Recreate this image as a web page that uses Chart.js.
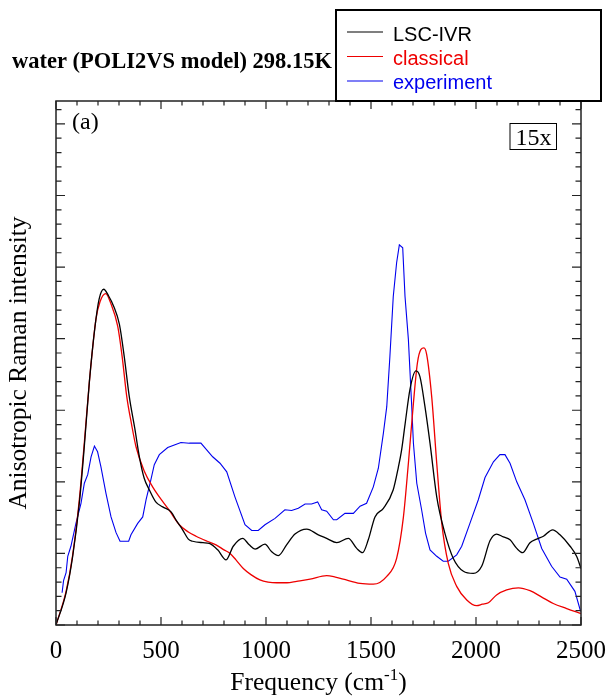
<!DOCTYPE html>
<html>
<head>
<meta charset="utf-8">
<script src="https://cdn.jsdelivr.net/npm/chart.js@4/dist/chart.umd.min.js"></script>
<style>
html,body{margin:0;padding:0;background:#fff;}
#c{display:block;}
</style>
</head>
<body>
<canvas id="c" width="611" height="700"></canvas>
<script>
// ---- data ----
const seriesLabels = ["LSC-IVR", "classical", "experiment"];
const seriesColors = ["#000000", "#ee0000", "#0000ee"];

const lscFreq = [0,48,79,111,135,159,185,205,227,250,275,302,325,349,375,397,420,444,475,508,548,575,603,630,651,700,730,770,810,844,889,920,948,995,1025,1059,1098,1138,1194,1249,1289,1337,1392,1432,1460,1487,1519,1559,1606,1630,1646,1662,1686,1714,1733,1757,1781,1813,1852,1892,1940,1987,2027,2067,2098,2130,2162,2194,2222,2257,2289,2321,2365,2400,2448,2479,2500];
const lscInt  = [0,0.45,0.95,1.7,2.5,3.4,4.15,4.55,4.69,4.6,4.45,4.2,3.75,3.19,2.75,2.35,2.05,1.89,1.72,1.65,1.58,1.45,1.33,1.2,1.17,1.15,1.14,1.05,0.91,1.1,1.21,1.12,1.06,1.13,1.03,0.97,1.12,1.27,1.34,1.26,1.21,1.15,1.21,1.07,1.01,1.19,1.51,1.63,1.89,2.2,2.45,2.8,3.3,3.55,3.47,3.05,2.54,1.79,1.28,0.93,0.75,0.72,0.82,1.18,1.27,1.23,1.19,1.07,1.01,1.15,1.2,1.24,1.33,1.26,1.1,0.96,0.79];

const classFreq = [0,48,79,111,135,159,190,210,237,260,294,315,337,360,381,420,460,492,540,587,630,667,720,762,800,829,857,892,930,971,1010,1051,1100,1146,1210,1289,1330,1368,1448,1511,1575,1622,1654,1678,1702,1721,1738,1752,1765,1789,1813,1837,1868,1908,1956,2003,2030,2059,2098,2146,2202,2257,2313,2368,2432,2500];
const classInt  = [0,0.47,0.97,1.75,2.55,3.4,4.27,4.52,4.63,4.5,4.17,3.75,3.19,2.8,2.49,2.15,1.93,1.79,1.6,1.4,1.3,1.24,1.17,1.12,1.05,1.0,0.91,0.79,0.7,0.63,0.6,0.59,0.59,0.61,0.64,0.69,0.67,0.64,0.58,0.57,0.68,0.93,1.5,2.26,3.1,3.66,3.85,3.87,3.78,3.19,2.26,1.42,0.86,0.54,0.35,0.27,0.29,0.31,0.42,0.49,0.52,0.48,0.39,0.3,0.23,0.16];

const expFreq = [29,36,48,56,71,95,119,135,151,167,183,198,214,238,262,286,305,346,357,389,413,429,452,468,492,532,595,635,690,746,781,813,852,900,932,963,995,1043,1090,1122,1154,1186,1217,1246,1265,1289,1321,1337,1376,1416,1448,1479,1511,1535,1559,1575,1590,1606,1622,1635,1651,1662,1678,1694,1702,1718,1741,1760,1781,1813,1844,1868,1908,1932,1971,2011,2043,2083,2114,2138,2162,2194,2233,2273,2313,2360,2400,2432,2471,2498];
const expInt  = [0.45,0.62,0.73,0.96,1.1,1.42,1.7,1.98,2.1,2.35,2.5,2.42,2.21,1.84,1.51,1.29,1.17,1.17,1.26,1.42,1.51,1.75,2.03,2.24,2.38,2.48,2.55,2.54,2.54,2.35,2.26,2.14,1.79,1.4,1.32,1.32,1.4,1.49,1.61,1.6,1.63,1.69,1.69,1.72,1.61,1.59,1.47,1.47,1.56,1.56,1.66,1.7,1.93,2.19,2.68,3.05,3.75,4.59,5.06,5.31,5.27,4.59,3.99,3.05,2.54,1.98,1.61,1.28,1.05,0.96,0.89,0.89,0.98,1.1,1.42,1.75,2.06,2.28,2.38,2.38,2.26,2.0,1.75,1.42,1.07,0.82,0.67,0.64,0.47,0.19];

const xTickLabels = [0, 500, 1000, 1500, 2000, 2500];
const chartTitle = "water (POLI2VS model) 298.15K";
const panelLabel = "(a)";
const scaleNote = "15x";
const yAxisTitle = "Anisotropic Raman intensity";
// --------------------------------------------------

const SERIF = '"Liberation Serif", "Times New Roman", Times, serif';
const SANS = '"Liberation Sans", Arial, Helvetica, sans-serif';

function pts(xs, ys){ return xs.map((x,i)=>({x:x, y:ys[i]})); }

const decor = {
  id: 'decor',
  afterDraw(chart){
    const ctx = chart.ctx;
    const a = chart.chartArea;
    const xs = chart.scales.x, ys = chart.scales.y;
    ctx.save();
    // frame
    ctx.strokeStyle = '#222';
    ctx.lineWidth = 1.5;
    ctx.strokeRect(a.left, a.top, a.right - a.left, a.bottom - a.top);
    // inward ticks, all four sides
    ctx.lineWidth = 1.2;
    ctx.beginPath();
    for (let v = 0; v <= 2500; v += 100){
      const px = xs.getPixelForValue(v);
      const len = (v % 500 === 0) ? 8 : 4.5;
      ctx.moveTo(px, a.bottom); ctx.lineTo(px, a.bottom - len);
      ctx.moveTo(px, a.top); ctx.lineTo(px, a.top + len);
    }
    for (let k = 0; k <= 36; k++){
      const v = k * 0.2;
      if (v > ys.max) break;
      const py = ys.getPixelForValue(v);
      const len = (k % 5 === 0) ? 9 : 5.5;
      ctx.moveTo(a.left, py); ctx.lineTo(a.left + len, py);
      ctx.moveTo(a.right, py); ctx.lineTo(a.right - len, py);
    }
    ctx.stroke();

    // title
    ctx.fillStyle = '#000';
    ctx.font = 'bold 22.5px ' + SERIF;
    ctx.textBaseline = 'alphabetic';
    ctx.textAlign = 'left';
    ctx.fillText(chartTitle, 12, 68);

    // legend box
    ctx.fillStyle = '#fff';
    ctx.fillRect(336, 10, 265, 91);
    ctx.strokeStyle = '#000';
    ctx.lineWidth = 2;
    ctx.strokeRect(336, 10, 265, 91);
    ctx.font = '20px ' + SANS;
    chart.data.datasets.forEach((ds, i) => {
      const ly = 32 + i * 24.5;
      ctx.strokeStyle = ds.borderColor;
      ctx.lineWidth = 1.2;
      ctx.beginPath(); ctx.moveTo(347, ly); ctx.lineTo(383, ly); ctx.stroke();
      ctx.fillStyle = ds.borderColor;
      ctx.fillText(ds.label, 393, 41 + i * 24.2);
    });

    // panel label and scale note
    ctx.fillStyle = '#000';
    ctx.font = '24px ' + SERIF;
    ctx.fillText(panelLabel, 72, 129);
    ctx.textAlign = 'center';
    ctx.fillText(scaleNote, 533.5, 145);
    ctx.strokeStyle = '#000';
    ctx.lineWidth = 1;
    ctx.strokeRect(510, 123.5, 46.5, 26);

    // x axis title with superscript
    ctx.textAlign = 'left';
    const main = 'Frequency (cm';
    const sup = '-1';
    const close = ')';
    ctx.font = '25.5px ' + SERIF;
    const w1 = ctx.measureText(main).width;
    const w3 = ctx.measureText(close).width;
    ctx.font = '17px ' + SERIF;
    const w2 = ctx.measureText(sup).width;
    const total = w1 + w2 + w3;
    let x0 = (a.left + a.right) / 2 - total / 2;
    const base = 690;
    ctx.font = '25.5px ' + SERIF;
    ctx.fillText(main, x0, base);
    ctx.font = '17px ' + SERIF;
    ctx.fillText(sup, x0 + w1, base - 10.5);
    ctx.font = '25.5px ' + SERIF;
    ctx.fillText(close, x0 + w1 + w2, base);
    ctx.restore();
  }
};

new Chart(document.getElementById('c'), {
  type: 'line',
  data: {
    datasets: [
      { label: seriesLabels[0], data: pts(lscFreq, lscInt), borderColor: seriesColors[0], borderWidth: 1.3, pointRadius: 0, cubicInterpolationMode: 'monotone', fill: false },
      { label: seriesLabels[1], data: pts(classFreq, classInt), borderColor: seriesColors[1], borderWidth: 1.3, pointRadius: 0, cubicInterpolationMode: 'monotone', fill: false },
      { label: seriesLabels[2], data: pts(expFreq, expInt), borderColor: seriesColors[2], borderWidth: 1.1, pointRadius: 0, tension: 0, fill: false }
    ]
  },
  options: {
    responsive: false,
    animation: false,
    devicePixelRatio: 1,
    layout: { padding: { left: 0, top: 101, right: 30, bottom: 0 } },
    plugins: { legend: { display: false }, title: { display: false }, tooltip: { enabled: false } },
    scales: {
      x: {
        type: 'linear', min: 0, max: 2500,
        afterFit: s => { s.height = 75; s.paddingLeft = 0; s.paddingRight = 0; },
        grid: { display: false, drawTicks: false },
        border: { display: false },
        afterBuildTicks: s => { s.ticks = xTickLabels.map(v => ({ value: v })); },
        ticks: { autoSkip: false, maxRotation: 0, padding: 11, color: '#000', font: { family: SERIF, size: 25 }, callback: v => String(v) }
      },
      y: {
        type: 'linear', min: 0, max: 7.32,
        afterFit: s => { s.width = 56; s.paddingTop = 0; s.paddingBottom = 0; },
        grid: { display: false, drawTicks: false },
        border: { display: false },
        ticks: { display: false },
        title: { display: true, text: yAxisTitle, color: '#000', font: { family: SERIF, size: 25.5 }, padding: { top: 4, bottom: 0 } }
      }
    }
  },
  plugins: [decor]
});
</script>
</body>
</html>
